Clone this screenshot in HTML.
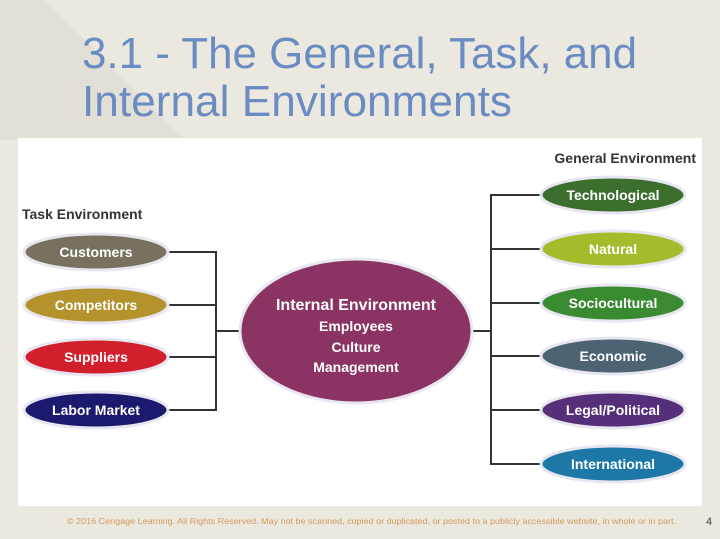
<!DOCTYPE html>
<html><head><meta charset="utf-8"><style>
body{margin:0;width:720px;height:539px;overflow:hidden;background:#ebe8df;font-family:"Liberation Sans",sans-serif}
</style></head><body>
<svg width="720" height="539" xmlns="http://www.w3.org/2000/svg" style="position:absolute;left:0;top:0">
<rect width="720" height="539" fill="#ebe8df"/>
<polygon points="0,0 0,140 185,140 45,0" fill="#e2dfd7"/>
<text x="82" y="68" font-size="44" fill="#6b8cc2" textLength="555" lengthAdjust="spacingAndGlyphs" font-family="Liberation Sans,sans-serif">3.1 - The General, Task, and</text>
<text x="82" y="116" font-size="44" fill="#6b8cc2" textLength="430" lengthAdjust="spacingAndGlyphs" font-family="Liberation Sans,sans-serif">Internal Environments</text>
<rect x="18" y="138" width="684" height="368" fill="#ffffff"/>
<g font-family="Liberation Sans,sans-serif" font-weight="bold">
<text x="22" y="219" font-size="14" fill="#333">Task Environment</text>
<text x="696" y="163" font-size="14" fill="#333" text-anchor="end">General Environment</text>
</g>
<g stroke="#333" stroke-width="2" fill="none">
<path d="M168 252H216V410H168M168 305H216M168 357H216M216 331H242"/>
<path d="M540 195H491V464H540M540 249H491M540 303H491M540 356H491M540 410H491M491 331H470"/>
</g>
<g stroke="#e8e6f0" stroke-width="3">
<ellipse cx="96" cy="252" rx="72" ry="18" fill="#77725f"/>
<ellipse cx="96" cy="305" rx="72" ry="18" fill="#b4922c"/>
<ellipse cx="96" cy="357" rx="72" ry="18" fill="#d21f2c"/>
<ellipse cx="96" cy="410" rx="72" ry="18" fill="#1c1a6e"/>
<ellipse cx="356" cy="331" rx="116" ry="72" fill="#8b3463"/>
<ellipse cx="613" cy="195" rx="72" ry="18" fill="#3c6e2e"/>
<ellipse cx="613" cy="249" rx="72" ry="18" fill="#a6bb2c"/>
<ellipse cx="613" cy="303" rx="72" ry="18" fill="#3a8a32"/>
<ellipse cx="613" cy="356" rx="72" ry="18" fill="#4b6372"/>
<ellipse cx="613" cy="410" rx="72" ry="18" fill="#562f7a"/>
<ellipse cx="613" cy="464" rx="72" ry="18" fill="#1d78a8"/>
</g>
<g font-family="Liberation Sans,sans-serif" font-weight="bold" font-size="14" fill="#fff" text-anchor="middle">
<text x="96" y="257">Customers</text>
<text x="96" y="310">Competitors</text>
<text x="96" y="362">Suppliers</text>
<text x="96" y="415">Labor Market</text>
<text x="613" y="200">Technological</text>
<text x="613" y="254">Natural</text>
<text x="613" y="308">Sociocultural</text>
<text x="613" y="361">Economic</text>
<text x="613" y="415">Legal/Political</text>
<text x="613" y="469">International</text>
<text x="356" y="310" font-size="16">Internal Environment</text>
<text x="356" y="331">Employees</text>
<text x="356" y="352">Culture</text>
<text x="356" y="372">Management</text>
</g>
<text x="67" y="524" font-size="8" fill="#d49a5c" textLength="609" lengthAdjust="spacingAndGlyphs" font-family="Liberation Sans,sans-serif">© 2016 Cengage Learning. All Rights Reserved. May not be scanned, copied or duplicated, or posted to a publicly accessible website, in whole or in part.</text>
<text x="709" y="525" font-size="11" fill="#444" text-anchor="middle" font-family="Liberation Sans,sans-serif">4</text>
</svg>
</body></html>
